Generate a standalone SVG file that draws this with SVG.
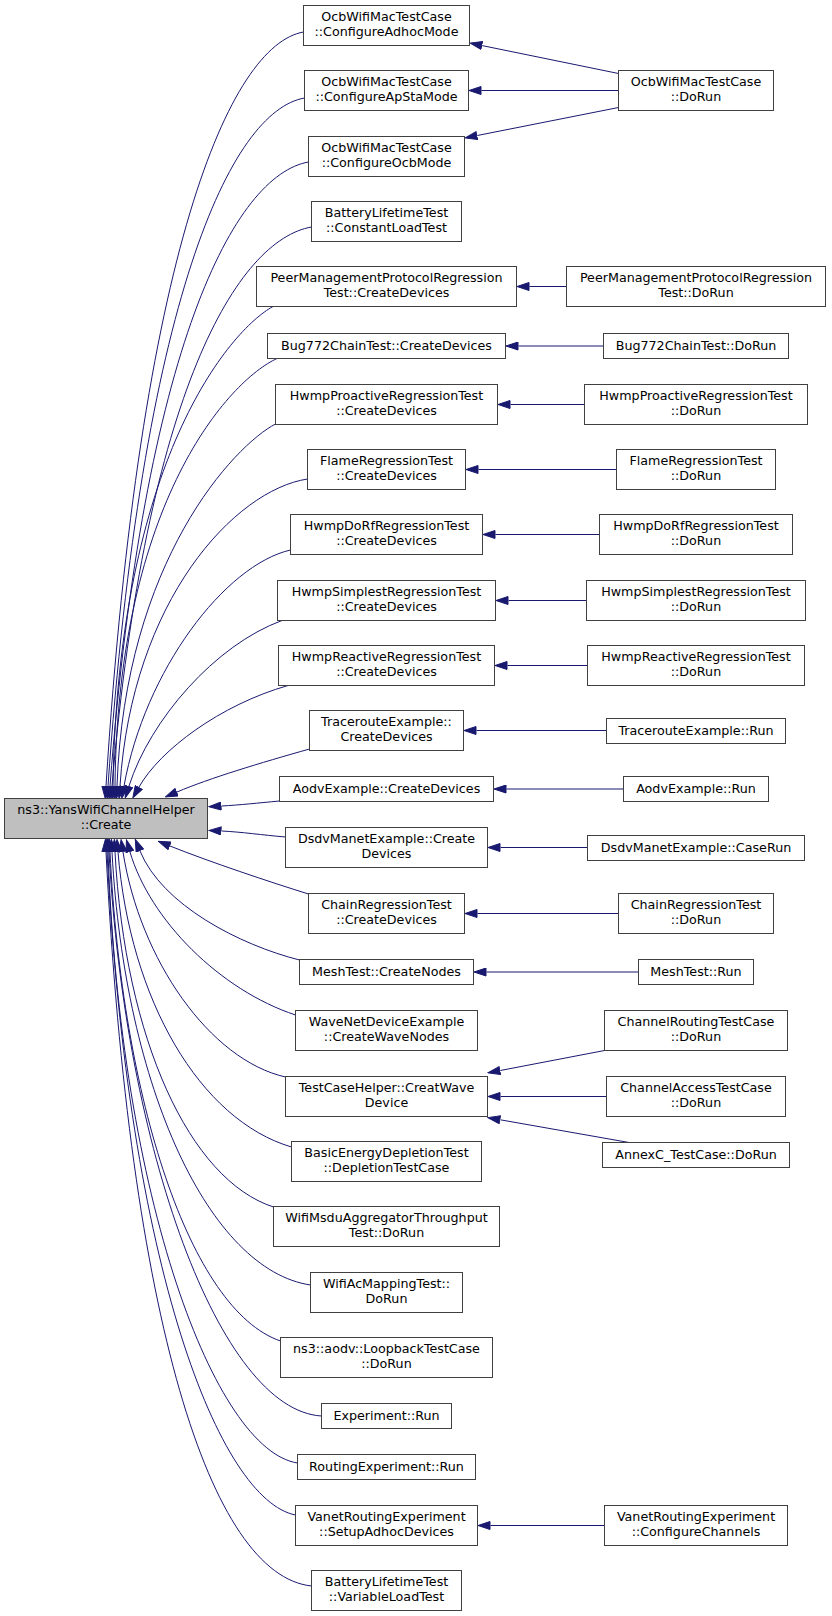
<svg xmlns="http://www.w3.org/2000/svg" width="832" height="1616" viewBox="0 0 832 1616">
<style>
.n rect{fill:#fff;stroke:#404040;stroke-width:1}
.m rect{fill:#bfbfbf;stroke:#404040;stroke-width:1}
text{font-family:"DejaVu Sans","Liberation Sans",sans-serif;font-size:12.7px;text-anchor:middle;fill:#000}
.e path{fill:none;stroke:#191970;stroke-width:1;marker-end:url(#ah)}
</style>
<defs>
<marker id="ah" markerUnits="userSpaceOnUse" viewBox="0 0 13 9" markerWidth="13" markerHeight="9" refX="0" refY="4.5" orient="auto">
<path d="M0.5,0.5 L12.5,4.5 L0.5,8.5 z" fill="#191970" stroke="#191970" stroke-width="1"/>
</marker>
</defs>
<rect width="832" height="1616" fill="#fff"/>
<g id="edges" class="e">
<path d="M303.5,32 C230,45 140,250 106,786"/>
<path d="M304.5,98 C231,111 142,298 108,786"/>
<path d="M308.5,162 C235,175 144,344 110,786"/>
<path d="M311.5,227 C238,240 146,390 112,786"/>
<path d="M273,306.5 C230,330 118,460 113,786"/>
<path d="M277,358.5 C230,380 118,500 115,786"/>
<path d="M275.5,424 C235,445 125,560 117,786"/>
<path d="M307.5,479 C235,490 132,600 120,786"/>
<path d="M290.5,550 C225,565 145,670 124,786"/>
<path d="M282,620.5 C215,645 150,720 129,786"/>
<path d="M288,685.5 C220,705 160,750 139,787"/>
<path d="M309.5,749 C260,763 210,778 177,792"/>
<path d="M279.5,801 C258,803 240,805 221.5,806"/>
<path d="M285.5,837 C262,835 242,832 221.5,831"/>
<path d="M308.5,894 C270,882 210,862 170,846"/>
<path d="M299.5,960 C240,945 162,905 140,851"/>
<path d="M295.5,1015 C220,990 150,920 130,852"/>
<path d="M285.5,1077 C210,1060 140,960 123,852"/>
<path d="M291.5,1147 C200,1120 130,1000 118,852"/>
<path d="M273.5,1207 C190,1180 125,1040 115,852"/>
<path d="M310.5,1285 C210,1270 125,1090 112,852"/>
<path d="M280.5,1341 C190,1310 122,1100 110,852"/>
<path d="M321.5,1416 C220,1410 125,1150 109,852"/>
<path d="M297.5,1463 C215,1450 120,1200 108,852"/>
<path d="M295.5,1515 C220,1500 128,1270 107,852"/>
<path d="M311.5,1586 C210,1575 130,1320 106,852"/>
<path d="M618.5,73.5 L482.2,45.6"/>
<path d="M618.5,90.5 L481.5,90.5"/>
<path d="M618.5,107.5 L477.3,135.5"/>
<path d="M566.5,286.5 L529.5,286.5"/>
<path d="M603.5,346 L518.5,346"/>
<path d="M584.5,404.5 L510.5,404.5"/>
<path d="M616.5,469.5 L478.5,469.5"/>
<path d="M599.5,534.5 L495.5,534.5"/>
<path d="M586.5,600.5 L508.5,600.5"/>
<path d="M587.5,665.5 L507.5,665.5"/>
<path d="M606.5,730.5 L476.5,730.5"/>
<path d="M623.5,789 L506.5,789"/>
<path d="M587.5,847.5 L500.5,847.5"/>
<path d="M618.5,913.5 L477.5,913.5"/>
<path d="M638.5,972 L486.5,972"/>
<path d="M604.5,1050.5 L500.3,1070.5"/>
<path d="M606.5,1096.5 L500.5,1096.5"/>
<path d="M629,1142.5 L500.3,1119.8"/>
<path d="M604.5,1525.5 L490.5,1525.5"/>
</g>
<g id="main" class="m"><rect x="4.5" y="798.5" width="203" height="40"/><text x="106" y="814.2">ns3::YansWifiChannelHelper</text><text x="106" y="829.3">::Create</text></g>
<g id="n1" class="n"><rect x="303.5" y="5.5" width="166" height="40"/><text x="386.5" y="21.2">OcbWifiMacTestCase</text><text x="386.5" y="36.3">::ConfigureAdhocMode</text></g>
<g id="n2" class="n"><rect x="304.5" y="70.5" width="164" height="40"/><text x="386.5" y="86.2">OcbWifiMacTestCase</text><text x="386.5" y="101.3">::ConfigureApStaMode</text></g>
<g id="n3" class="n"><rect x="308.5" y="136.5" width="156" height="40"/><text x="386.5" y="152.2">OcbWifiMacTestCase</text><text x="386.5" y="167.3">::ConfigureOcbMode</text></g>
<g id="n4" class="n"><rect x="311.5" y="201.5" width="150" height="40"/><text x="386.5" y="217.2">BatteryLifetimeTest</text><text x="386.5" y="232.3">::ConstantLoadTest</text></g>
<g id="n5" class="n"><rect x="256.5" y="266.5" width="260" height="40"/><text x="386.5" y="282.2">PeerManagementProtocolRegression</text><text x="386.5" y="297.3">Test::CreateDevices</text></g>
<g id="n6" class="n"><rect x="267.5" y="333.5" width="238" height="25"/><text x="386.5" y="349.8">Bug772ChainTest::CreateDevices</text></g>
<g id="n7" class="n"><rect x="275.5" y="384.5" width="222" height="40"/><text x="386.5" y="400.2">HwmpProactiveRegressionTest</text><text x="386.5" y="415.3">::CreateDevices</text></g>
<g id="n8" class="n"><rect x="307.5" y="449.5" width="158" height="40"/><text x="386.5" y="465.2">FlameRegressionTest</text><text x="386.5" y="480.3">::CreateDevices</text></g>
<g id="n9" class="n"><rect x="290.5" y="514.5" width="192" height="40"/><text x="386.5" y="530.2">HwmpDoRfRegressionTest</text><text x="386.5" y="545.3">::CreateDevices</text></g>
<g id="n10" class="n"><rect x="277.5" y="580.5" width="218" height="40"/><text x="386.5" y="596.2">HwmpSimplestRegressionTest</text><text x="386.5" y="611.3">::CreateDevices</text></g>
<g id="n11" class="n"><rect x="278.5" y="645.5" width="216" height="40"/><text x="386.5" y="661.2">HwmpReactiveRegressionTest</text><text x="386.5" y="676.3">::CreateDevices</text></g>
<g id="n12" class="n"><rect x="309.5" y="710.5" width="154" height="40"/><text x="386.5" y="726.2">TracerouteExample::</text><text x="386.5" y="741.3">CreateDevices</text></g>
<g id="n13" class="n"><rect x="279.5" y="776.5" width="214" height="25"/><text x="386.5" y="792.8">AodvExample::CreateDevices</text></g>
<g id="n14" class="n"><rect x="285.5" y="827.5" width="202" height="40"/><text x="386.5" y="843.2">DsdvManetExample::Create</text><text x="386.5" y="858.3">Devices</text></g>
<g id="n15" class="n"><rect x="308.5" y="893.5" width="156" height="40"/><text x="386.5" y="909.2">ChainRegressionTest</text><text x="386.5" y="924.3">::CreateDevices</text></g>
<g id="n16" class="n"><rect x="299.5" y="959.5" width="174" height="25"/><text x="386.5" y="975.8">MeshTest::CreateNodes</text></g>
<g id="n17" class="n"><rect x="295.5" y="1010.5" width="182" height="40"/><text x="386.5" y="1026.2">WaveNetDeviceExample</text><text x="386.5" y="1041.3">::CreateWaveNodes</text></g>
<g id="n18" class="n"><rect x="285.5" y="1076.5" width="202" height="40"/><text x="386.5" y="1092.2">TestCaseHelper::CreatWave</text><text x="386.5" y="1107.3">Device</text></g>
<g id="n19" class="n"><rect x="291.5" y="1141.5" width="190" height="40"/><text x="386.5" y="1157.2">BasicEnergyDepletionTest</text><text x="386.5" y="1172.3">::DepletionTestCase</text></g>
<g id="n20" class="n"><rect x="273.5" y="1206.5" width="226" height="40"/><text x="386.5" y="1222.2">WifiMsduAggregatorThroughput</text><text x="386.5" y="1237.3">Test::DoRun</text></g>
<g id="n21" class="n"><rect x="310.5" y="1272.5" width="152" height="40"/><text x="386.5" y="1288.2">WifiAcMappingTest::</text><text x="386.5" y="1303.3">DoRun</text></g>
<g id="n22" class="n"><rect x="280.5" y="1337.5" width="212" height="40"/><text x="386.5" y="1353.2">ns3::aodv::LoopbackTestCase</text><text x="386.5" y="1368.3">::DoRun</text></g>
<g id="n23" class="n"><rect x="321.5" y="1403.5" width="130" height="25"/><text x="386.5" y="1419.8">Experiment::Run</text></g>
<g id="n24" class="n"><rect x="297.5" y="1454.5" width="178" height="25"/><text x="386.5" y="1470.8">RoutingExperiment::Run</text></g>
<g id="n25" class="n"><rect x="295.5" y="1505.5" width="182" height="40"/><text x="386.5" y="1521.2">VanetRoutingExperiment</text><text x="386.5" y="1536.3">::SetupAdhocDevices</text></g>
<g id="n26" class="n"><rect x="311.5" y="1570.5" width="150" height="40"/><text x="386.5" y="1586.2">BatteryLifetimeTest</text><text x="386.5" y="1601.3">::VariableLoadTest</text></g>
<g id="r1" class="n"><rect x="618.5" y="70.5" width="155" height="40"/><text x="696" y="86.2">OcbWifiMacTestCase</text><text x="696" y="101.3">::DoRun</text></g>
<g id="r2" class="n"><rect x="566.5" y="266.5" width="259" height="40"/><text x="696" y="282.2">PeerManagementProtocolRegression</text><text x="696" y="297.3">Test::DoRun</text></g>
<g id="r3" class="n"><rect x="603.5" y="333.5" width="185" height="25"/><text x="696" y="349.8">Bug772ChainTest::DoRun</text></g>
<g id="r4" class="n"><rect x="584.5" y="384.5" width="223" height="40"/><text x="696" y="400.2">HwmpProactiveRegressionTest</text><text x="696" y="415.3">::DoRun</text></g>
<g id="r5" class="n"><rect x="616.5" y="449.5" width="159" height="40"/><text x="696" y="465.2">FlameRegressionTest</text><text x="696" y="480.3">::DoRun</text></g>
<g id="r6" class="n"><rect x="599.5" y="514.5" width="193" height="40"/><text x="696" y="530.2">HwmpDoRfRegressionTest</text><text x="696" y="545.3">::DoRun</text></g>
<g id="r7" class="n"><rect x="586.5" y="580.5" width="219" height="40"/><text x="696" y="596.2">HwmpSimplestRegressionTest</text><text x="696" y="611.3">::DoRun</text></g>
<g id="r8" class="n"><rect x="587.5" y="645.5" width="217" height="40"/><text x="696" y="661.2">HwmpReactiveRegressionTest</text><text x="696" y="676.3">::DoRun</text></g>
<g id="r9" class="n"><rect x="606.5" y="718.5" width="179" height="25"/><text x="696" y="734.8">TracerouteExample::Run</text></g>
<g id="r10" class="n"><rect x="623.5" y="776.5" width="145" height="25"/><text x="696" y="792.8">AodvExample::Run</text></g>
<g id="r11" class="n"><rect x="587.5" y="835.5" width="217" height="25"/><text x="696" y="851.8">DsdvManetExample::CaseRun</text></g>
<g id="r12" class="n"><rect x="618.5" y="893.5" width="155" height="40"/><text x="696" y="909.2">ChainRegressionTest</text><text x="696" y="924.3">::DoRun</text></g>
<g id="r13" class="n"><rect x="638.5" y="959.5" width="115" height="25"/><text x="696" y="975.8">MeshTest::Run</text></g>
<g id="r14" class="n"><rect x="604.5" y="1010.5" width="183" height="40"/><text x="696" y="1026.2">ChannelRoutingTestCase</text><text x="696" y="1041.3">::DoRun</text></g>
<g id="r15" class="n"><rect x="606.5" y="1076.5" width="179" height="40"/><text x="696" y="1092.2">ChannelAccessTestCase</text><text x="696" y="1107.3">::DoRun</text></g>
<g id="r16" class="n"><rect x="602.5" y="1142.5" width="187" height="25"/><text x="696" y="1158.8">AnnexC_TestCase::DoRun</text></g>
<g id="r17" class="n"><rect x="604.5" y="1505.5" width="183" height="40"/><text x="696" y="1521.2">VanetRoutingExperiment</text><text x="696" y="1536.3">::ConfigureChannels</text></g>
</svg>
